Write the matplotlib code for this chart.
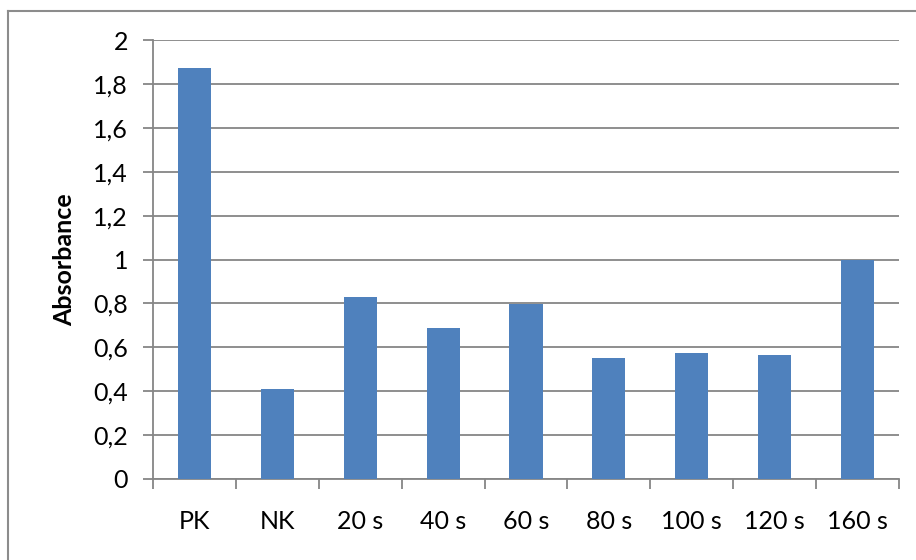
import numpy as np
import matplotlib
matplotlib.use("Agg")
from matplotlib import pyplot as plt
from matplotlib.lines import Line2D
from matplotlib.ticker import FuncFormatter

# Data
categories = ["PK", "NK", "20 s", "40 s", "60 s", "80 s", "100 s", "120 s", "160 s"]
absorbance = [1.872, 0.41, 0.829, 0.688, 0.796, 0.55, 0.574, 0.563, 0.998]
y_ticks = [0, 0.2, 0.4, 0.6, 0.8, 1.0, 1.2, 1.4, 1.6, 1.8, 2.0]

plt.rcParams['font.family'] = ['Lato', 'DejaVu Sans']
grid_col = '#868686'

fig = plt.figure(figsize=(9.16, 5.6), dpi=100)
ax = fig.add_axes([153 / 916, 1 - 479 / 560, 746 / 916, 439 / 560])

x = np.arange(len(categories))
ax.bar(x, absorbance, width=0.4, color='#4F81BD', zorder=3)

ax.set_xlim(-0.5, len(categories) - 0.5)
ax.set_ylim(0, 2)
ax.set_yticks(y_ticks)
ax.yaxis.set_major_formatter(FuncFormatter(lambda v, p: ('%g' % round(v, 1)).replace('.', ',')))
ax.grid(axis='y', color=grid_col, linewidth=1.3, zorder=0)

# category labels centred, ticks between categories
ax.set_xticks(x)
ax.set_xticklabels(categories)
ax.tick_params(axis='x', length=0, pad=22, labelsize=18)
ax.set_xticks(np.arange(len(categories) + 1) - 0.5, minor=True)
ax.tick_params(axis='x', which='minor', length=7, width=1.3, color=grid_col, direction='out')
ax.tick_params(axis='y', length=7, width=1.3, color=grid_col, pad=11, labelsize=18)

for side in ['top', 'right']:
    ax.spines[side].set_visible(False)
for side in ['left', 'bottom']:
    ax.spines[side].set_color(grid_col)
    ax.spines[side].set_linewidth(1.3)

ax.set_ylabel('Absorbance', fontsize=18, fontweight='bold', labelpad=12)

# outer chart border (only left and top edges visible in the image)
fig.add_artist(Line2D([8 / 916, 8 / 916], [0, 1 - 11 / 560], transform=fig.transFigure,
                      color='#8c8c8c', linewidth=1.5))
fig.add_artist(Line2D([8 / 916, 1], [1 - 11 / 560, 1 - 11 / 560], transform=fig.transFigure,
                      color='#8c8c8c', linewidth=1.5))

fig.savefig('out.png', dpi=100)
